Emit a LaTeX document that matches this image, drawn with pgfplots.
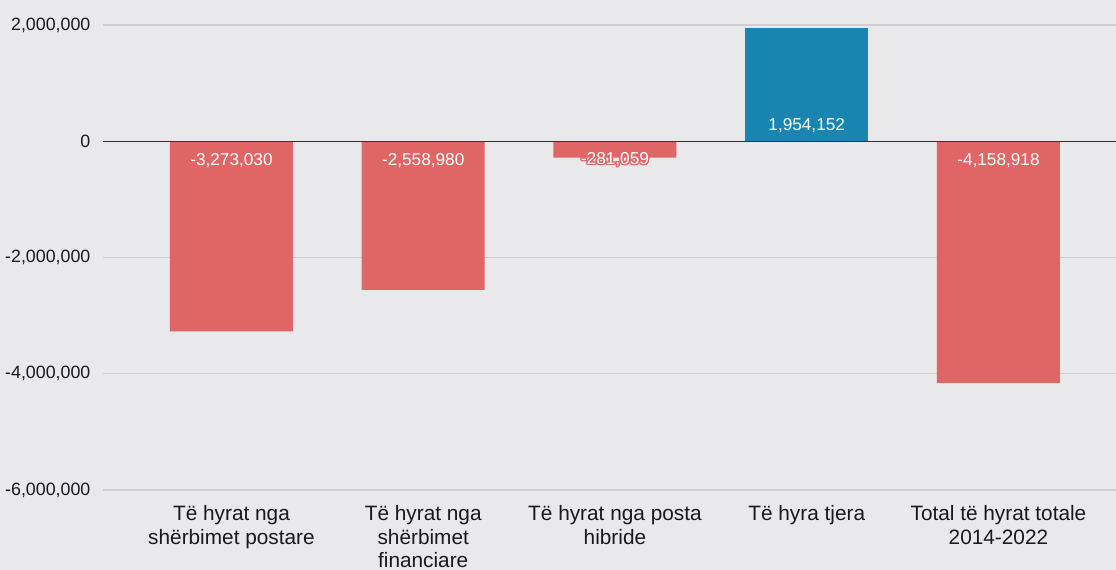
\documentclass[border=0pt]{standalone}
\usepackage{pgfplots}
\pgfplotsset{compat=1.18}
\usepackage{fontspec}
\setmainfont{Liberation Sans}
\usepackage{contour}
\contourlength{0.7pt}
\pgfdeclarelayer{background}
\pgfsetlayers{background,main}

\definecolor{bg}{HTML}{E9E8EB}
\definecolor{redbar}{HTML}{E06666}
\definecolor{bluebar}{HTML}{1A85B0}
\definecolor{gridc}{HTML}{CFCFD2}
\definecolor{zeroc}{HTML}{333333}

\begin{document}
\begin{tikzpicture}
\begin{axis}[
    scale only axis,
    width=506.5pt, height=232.5pt,
    xmin=-0.67, xmax=4.613,
    ymin=-6000000, ymax=2000000,
    ytick={-6000000,-4000000,-2000000,0,2000000},
    scaled y ticks=false,
    /pgf/number format/fixed,
    /pgf/number format/precision=0,
    /pgf/number format/1000 sep={,},
    /pgf/number format/assume math mode=true,
    xtick={0,1,2,3,4},
    xticklabels={{Të hyrat nga\\shërbimet postare},{Të hyrat nga\\shërbimet\\financiare},{Të hyrat nga posta\\hibride},{Të hyra tjera},{Total të hyrat totale\\2014-2022}},
    xticklabel style={align=center, font=\fontsize{10.4}{11.8}\selectfont, text=black!90, inner sep=0pt, yshift=-7.5pt},
    yticklabel style={font=\fontsize{8.9}{12}\selectfont, text=black!90, xshift=-2.8pt},
    major tick length=0pt,
    axis line style={draw=none},
    ymajorgrids=true,
    grid style={gridc, line width=0.6pt},
    clip=false,
]
\addplot[ybar, bar width=61.5pt, fill=redbar, draw=none]
    coordinates {(0,-3273030) (1,-2558980) (2,-281059) (4,-4158918)};
\addplot[ybar, bar width=61.5pt, fill=bluebar, draw=none]
    coordinates {(3,1954152)};
\draw[zeroc, line width=0.6pt] (axis cs:-0.67,0) -- (axis cs:4.613,0);
% labels at the base of each bar
\addplot[only marks, mark=none, point meta=explicit symbolic,
    nodes near coords,
    every node near coord/.style={font=\fontsize{8.6}{9}\selectfont, text=white, anchor=center, yshift=-9.5pt}]
    coordinates {(0,0)[-3,273,030] (1,0)[-2,558,980] (4,0)[-4,158,918]};
\addplot[only marks, mark=none, point meta=explicit symbolic,
    nodes near coords={\contour{redbar}{\pgfplotspointmeta}},
    every node near coord/.style={font=\fontsize{8.6}{9}\selectfont, text=white, anchor=center, yshift=-9.5pt}]
    coordinates {(2,0)[-281,059]};
\addplot[only marks, mark=none, point meta=explicit symbolic,
    nodes near coords,
    every node near coord/.style={font=\fontsize{8.6}{9}\selectfont, text=white, anchor=center, yshift=8pt}]
    coordinates {(3,0)[1,954,152]};
\end{axis}
\begin{pgfonlayer}{background}
\fill[bg] ([xshift=-51.5pt,yshift=-40pt]current axis.south west) rectangle ([yshift=12.5pt]current axis.north east);
\end{pgfonlayer}
\pgfresetboundingbox
\path[use as bounding box] ([xshift=-51.5pt,yshift=-40pt]current axis.south west) rectangle ([yshift=12.5pt]current axis.north east);
\end{tikzpicture}
\end{document}
